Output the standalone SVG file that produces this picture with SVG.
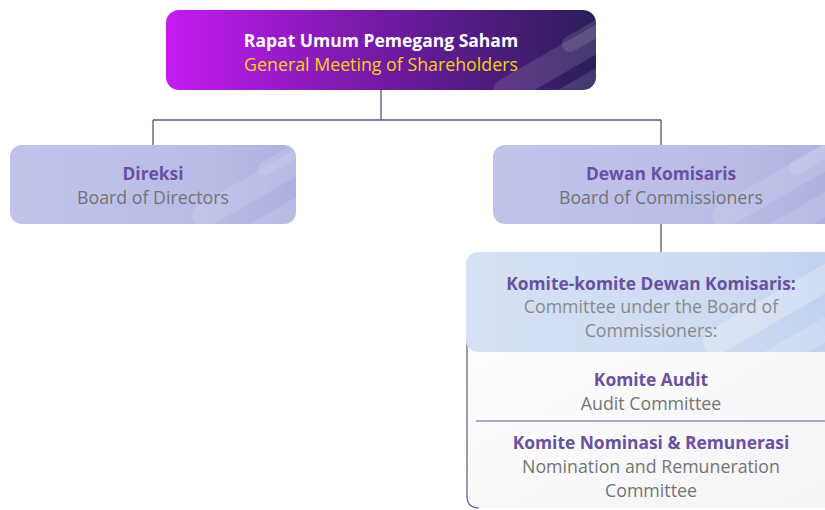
<svg xmlns="http://www.w3.org/2000/svg" width="825" height="510" viewBox="0 0 825 510">
<defs>
<linearGradient id="gTop" x1="0" y1="0" x2="1" y2="0">
<stop offset="0" stop-color="#c41bf2"/>
<stop offset="0.55" stop-color="#6a1a9c"/>
<stop offset="1" stop-color="#2b1f5a"/>
</linearGradient>
<linearGradient id="gBlue" x1="0" y1="0" x2="1" y2="0">
<stop offset="0" stop-color="#c0c3ea"/>
<stop offset="0.7" stop-color="#b9bce6"/>
<stop offset="1" stop-color="#aeb1e0"/>
</linearGradient>
<linearGradient id="gHead" x1="0" y1="0" x2="1" y2="0">
<stop offset="0" stop-color="#d6e1f3"/>
<stop offset="0.75" stop-color="#ccdaf1"/>
<stop offset="1" stop-color="#bfd0ee"/>
</linearGradient>
<linearGradient id="gList" x1="0" y1="0" x2="1" y2="1">
<stop offset="0" stop-color="#ffffff"/>
<stop offset="1" stop-color="#f4f4f7"/>
</linearGradient>
<clipPath id="cTop"><rect x="166" y="10" width="430" height="80" rx="13"/></clipPath>
<clipPath id="cDir"><rect x="10" y="145" width="286" height="79" rx="12"/></clipPath>
<clipPath id="cDew"><rect x="493" y="145" width="345" height="79" rx="12"/></clipPath>
<clipPath id="cHead"><rect x="466" y="252" width="372" height="100" rx="12"/></clipPath>
</defs>
<style>
.ln{stroke:#5d527f;stroke-width:1.3;fill:none}
.t{font-family:"Open Sans","Lato",sans-serif;text-anchor:middle;font-size:17.8px}
.b{font-weight:bold;fill:#6a50a3;font-size:17.4px}
.w{font-weight:bold;fill:#ffffff;font-size:17.5px}
.g{fill:#747474}
.g2{fill:#8a8a8a}
.deco{fill:#ffffff;opacity:0.12}
</style>

<g id="connectors">
<path class="ln" d="M381 90 V120 M153 120 H661 M153 120 V145 M661 120 V145 M661 224 V252"/>
</g>

<g id="rups">
<rect x="166" y="10" width="430" height="80" rx="13" fill="url(#gTop)"/>
<g clip-path="url(#cTop)">
<rect x="480" y="30" width="220" height="26" rx="13" class="deco" transform="rotate(-30 590 43)"/>
<rect x="520" y="50" width="220" height="20" rx="10" class="deco" transform="rotate(-30 630 60)"/>
<rect x="555" y="10" width="120" height="16" rx="8" class="deco" transform="rotate(-30 615 18)"/>
</g>
<text class="t w" x="381" y="47">Rapat Umum Pemegang Saham</text>
<text class="t" x="381" y="71" fill="#f7d117">General Meeting of Shareholders</text>
</g>

<g id="direksi">
<rect x="10" y="145" width="286" height="79" rx="12" fill="url(#gBlue)"/>
<g clip-path="url(#cDir)">
<rect x="180" y="160" width="200" height="24" rx="12" class="deco" transform="rotate(-30 280 172)"/>
<rect x="220" y="185" width="200" height="22" rx="11" class="deco" transform="rotate(-30 320 196)"/>
<rect x="255" y="150" width="60" height="14" rx="7" class="deco" transform="rotate(-30 285 157)"/>
</g>
<text class="t b" x="153" y="180">Direksi</text>
<text class="t g" x="153" y="204">Board of Directors</text>
</g>

<g id="dewan">
<rect x="493" y="145" width="345" height="79" rx="12" fill="url(#gBlue)"/>
<g clip-path="url(#cDew)">
<rect x="700" y="160" width="200" height="24" rx="12" class="deco" transform="rotate(-30 800 172)"/>
<rect x="740" y="185" width="200" height="22" rx="11" class="deco" transform="rotate(-30 840 196)"/>
<rect x="785" y="150" width="60" height="14" rx="7" class="deco" transform="rotate(-30 815 157)"/>
</g>
<text class="t b" x="661" y="180">Dewan Komisaris</text>
<text class="t g" x="661" y="204">Board of Commissioners</text>
</g>

<g id="komite">
<path d="M467 300 V496 Q467 508 479 508 H840 V300 Z" fill="url(#gList)"/>
<path d="M467 300 V496 Q467 508 479 508" stroke="#6a50a3" stroke-width="1.2" fill="none"/>
<rect x="466" y="252" width="372" height="100" rx="12" fill="url(#gHead)"/>
<g clip-path="url(#cHead)">
<rect x="690" y="280" width="220" height="26" rx="13" class="deco" transform="rotate(-30 800 293)" style="opacity:0.25"/>
<rect x="730" y="310" width="220" height="22" rx="11" class="deco" transform="rotate(-30 840 321)" style="opacity:0.2"/>
</g>
<text class="t b" x="651" y="290">Komite-komite Dewan Komisaris:</text>
<text class="t g2" x="651" y="313">Committee under the Board of</text>
<text class="t g2" x="651" y="337">Commissioners:</text>
<line x1="476" y1="421" x2="825" y2="421" stroke="#6a50a3" stroke-width="1.2"/>
</g>

<g id="audit">
<text class="t b" x="651" y="386">Komite Audit</text>
<text class="t g" x="651" y="410">Audit Committee</text>
</g>

<g id="nominasi">
<text class="t b" x="651" y="449">Komite Nominasi &amp; Remunerasi</text>
<text class="t g" x="651" y="473">Nomination and Remuneration</text>
<text class="t g" x="651" y="497">Committee</text>
</g>
</svg>
